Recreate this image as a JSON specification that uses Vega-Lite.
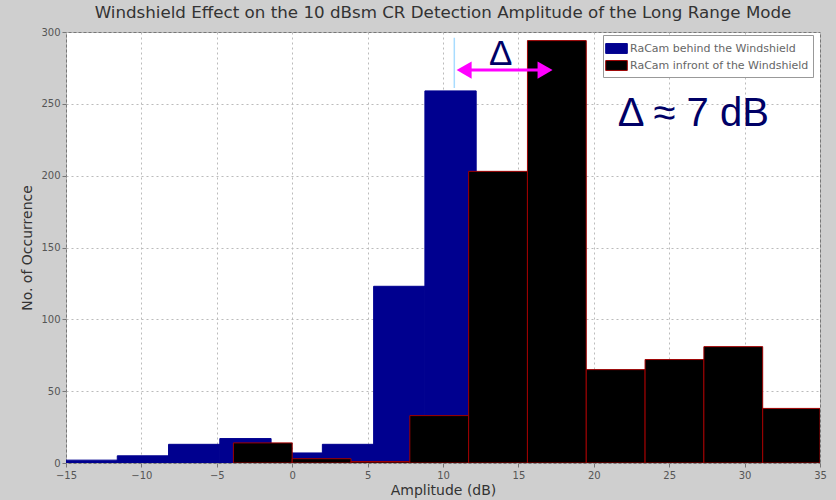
{
  "$schema": "https://vega.github.io/schema/vega-lite/v6.json",
  "autosize": "none",
  "width": 754,
  "height": 431,
  "padding": {"left": 66, "top": 32, "right": 16, "bottom": 37},
  "background": "#cfcfcf",
  "title": {
    "text": "Windshield Effect on the 10 dBsm CR Detection Amplitude of the Long Range Mode",
    "font": "DejaVu Sans",
    "fontSize": 16.7,
    "fontWeight": "normal",
    "color": "#333333",
    "anchor": "middle",
    "offset": 5
  },
  "config": {
    "view": {"fill": "white", "stroke": "#777777"},
    "font": "DejaVu Sans",
    "axis": {
      "labelFont": "DejaVu Sans",
      "labelFontSize": 10,
      "labelColor": "#555555",
      "titleFont": "DejaVu Sans",
      "titleFontSize": 14,
      "titleFontWeight": "normal",
      "titleColor": "#333333",
      "gridColor": "#bbbbbb",
      "gridDash": [2, 3],
      "tickColor": "#777777",
      "tickSize": 4,
      "domain": false,
      "labelFlush": false
    }
  },
  "layer": [
    {
      "data": {
        "values": [
          {"start": -15, "end": -11.6, "count": 2, "series": "RaCam behind the Windshield"},
          {"start": -11.6, "end": -8.2, "count": 5, "series": "RaCam behind the Windshield"},
          {"start": -8.2, "end": -4.8, "count": 13, "series": "RaCam behind the Windshield"},
          {"start": -4.8, "end": -1.4, "count": 17, "series": "RaCam behind the Windshield"},
          {"start": -1.4, "end": 2.0, "count": 7, "series": "RaCam behind the Windshield"},
          {"start": 2.0, "end": 5.4, "count": 13, "series": "RaCam behind the Windshield"},
          {"start": 5.4, "end": 8.8, "count": 123, "series": "RaCam behind the Windshield"},
          {"start": 8.8, "end": 12.2, "count": 259, "series": "RaCam behind the Windshield"},
          {"start": -3.9, "end": 0, "count": 14, "series": "RaCam infront of the Windshield"},
          {"start": 0, "end": 3.9, "count": 3, "series": "RaCam infront of the Windshield"},
          {"start": 3.9, "end": 7.8, "count": 1, "series": "RaCam infront of the Windshield"},
          {"start": 7.8, "end": 11.7, "count": 33, "series": "RaCam infront of the Windshield"},
          {"start": 11.7, "end": 15.6, "count": 203, "series": "RaCam infront of the Windshield"},
          {"start": 15.6, "end": 19.5, "count": 294, "series": "RaCam infront of the Windshield"},
          {"start": 19.5, "end": 23.4, "count": 65, "series": "RaCam infront of the Windshield"},
          {"start": 23.4, "end": 27.3, "count": 72, "series": "RaCam infront of the Windshield"},
          {"start": 27.3, "end": 31.2, "count": 81, "series": "RaCam infront of the Windshield"},
          {"start": 31.2, "end": 35, "count": 38, "series": "RaCam infront of the Windshield"}
        ]
      },
      "mark": {"type": "bar", "strokeWidth": 1, "clip": true},
      "encoding": {
        "x": {
          "field": "start",
          "type": "quantitative",
          "scale": {"domain": [-15, 35], "nice": false, "zero": false},
          "axis": {"title": "Amplitude (dB)", "values": [-15, -10, -5, 0, 5, 10, 15, 20, 25, 30, 35], "labelPadding": 3, "titlePadding": 3}
        },
        "x2": {"field": "end"},
        "y": {
          "field": "count",
          "type": "quantitative",
          "stack": null,
          "scale": {"domain": [0, 300], "nice": false},
          "axis": {"title": "No. of Occurrence", "values": [0, 50, 100, 150, 200, 250, 300], "labelPadding": 2, "titlePadding": 6}
        },
        "y2": {"datum": 0},
        "fill": {
          "field": "series",
          "type": "nominal",
          "scale": {"domain": ["RaCam behind the Windshield", "RaCam infront of the Windshield"], "range": ["#00008f", "#000000"]},
          "legend": {
            "title": null,
            "orient": "none",
            "legendX": 537,
            "legendY": 3,
            "fillColor": "white",
            "strokeColor": "#999999",
            "padding": 4,
            "symbolType": "M-1.2,-0.55H1.2V0.55H-1.2Z",
            "symbolSize": 324,
            "symbolStrokeWidth": 1,
            "labelFont": "DejaVu Sans",
            "labelFontSize": 11,
            "labelColor": "#666666",
            "labelLimit": 400,
            "rowPadding": 0
          }
        },
        "stroke": {
          "field": "series",
          "type": "nominal",
          "scale": {"domain": ["RaCam behind the Windshield", "RaCam infront of the Windshield"], "range": ["#00008f", "#a00000"]},
          "legend": {
            "title": null,
            "orient": "none",
            "legendX": 537,
            "legendY": 3,
            "fillColor": "white",
            "strokeColor": "#999999",
            "padding": 4,
            "symbolType": "M-1.2,-0.55H1.2V0.55H-1.2Z",
            "symbolSize": 324,
            "symbolStrokeWidth": 1,
            "labelFont": "DejaVu Sans",
            "labelFontSize": 11,
            "labelColor": "#666666",
            "labelLimit": 400,
            "rowPadding": 0
          }
        }
      }
    },
    {
      "data": {"values": [{"x": 10.75, "y": 296, "y2": 261}]},
      "mark": {"type": "rule", "color": "#a8dcff", "strokeWidth": 1.5},
      "encoding": {
        "x": {"field": "x", "type": "quantitative"},
        "y": {"field": "y", "type": "quantitative"},
        "y2": {"field": "y2"}
      }
    },
    {
      "data": {"values": [{"x": 11.2, "x2": 16.9, "y": 273.5}]},
      "mark": {"type": "rule", "color": "#ff00ff", "strokeWidth": 3},
      "encoding": {
        "x": {"field": "x", "type": "quantitative"},
        "x2": {"field": "x2"},
        "y": {"field": "y", "type": "quantitative"}
      }
    },
    {
      "data": {"values": [{"x": 11.4, "y": 273.5, "dir": "triangle-left"}, {"x": 16.77, "y": 273.5, "dir": "triangle-right"}]},
      "mark": {"type": "point", "filled": true, "color": "#ff00ff", "size": 300, "opacity": 1},
      "encoding": {
        "x": {"field": "x", "type": "quantitative"},
        "y": {"field": "y", "type": "quantitative"},
        "shape": {"field": "dir", "type": "nominal", "scale": {"domain": ["triangle-left", "triangle-right"], "range": ["triangle-left", "triangle-right"]}, "legend": null}
      }
    },
    {
      "data": {"values": [{"x": 13.82, "y": 277, "label": "Δ", "size": 35}, {"x": 26.6, "y": 234.5, "label": "Δ ≈ 7 dB", "size": 40}]},
      "mark": {"type": "text", "font": "Liberation Sans", "color": "#000066", "align": "center", "baseline": "alphabetic"},
      "encoding": {
        "x": {"field": "x", "type": "quantitative"},
        "y": {"field": "y", "type": "quantitative"},
        "text": {"field": "label"},
        "size": {"field": "size", "type": "quantitative", "scale": null}
      }
    }
  ]
}
